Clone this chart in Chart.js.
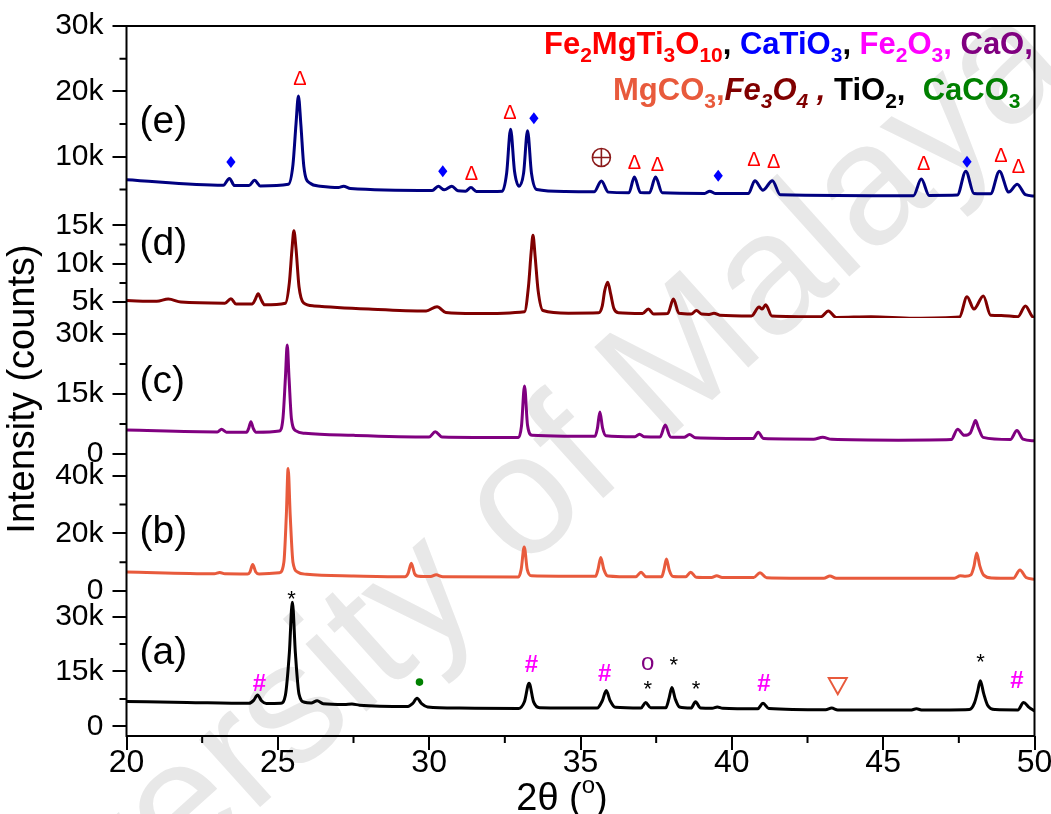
<!DOCTYPE html>
<html>
<head>
<meta charset="utf-8">
<title>XRD patterns (a)-(e)</title>
<script src="https://cdn.jsdelivr.net/npm/chart.js@4.4.1/dist/chart.umd.min.js"></script>
<style>
  html, body { margin: 0; padding: 0; background: #fff; }
  #wrap { width: 1051px; height: 814px; position: relative; }
</style>
</head>
<body>
<div id="wrap"><canvas id="xrdChart"></canvas></div>
<script>
// 2-theta / counts pairs for each sample, bottom (a) to top (e)
const patternA = [
  [20.0, 6800], [22.0, 6550], [24.05, 6300], [24.2, 7100], [24.33, 8600], [24.46, 7000], [24.62, 6250],
  [25.1, 6350], [25.25, 8500], [25.38, 20000], [25.48, 34000], [25.58, 20000], [25.7, 8800], [25.88, 6600],
  [26.1, 6400], [26.3, 7000], [26.5, 6200], [27.2, 6000], [27.45, 6100], [27.7, 5800], [29.3, 5450],
  [29.45, 6200], [29.6, 7700], [29.75, 6200], [29.95, 5300], [31.0, 5000], [32.95, 4900], [33.15, 6800],
  [33.3, 11800], [33.45, 6700], [33.65, 5100], [35.55, 5000], [35.72, 7000], [35.85, 9800], [35.98, 7000],
  [36.15, 5200], [37.0, 5000], [37.15, 6500], [37.32, 5100], [37.82, 5100], [37.92, 7500], [38.02, 10600],
  [38.13, 7500], [38.27, 5300], [38.65, 5000], [38.8, 6700], [38.97, 5000], [39.35, 4950], [39.52, 5300],
  [39.7, 4950], [40.85, 4800], [41.03, 6300], [41.22, 4900], [43.1, 4550], [43.3, 5000], [43.5, 4500],
  [45.9, 4450], [46.1, 4800], [46.3, 4450], [47.85, 4600], [48.02, 6500], [48.12, 9500], [48.21, 12500],
  [48.32, 9000], [48.45, 5800], [48.7, 4600], [49.45, 4500], [49.64, 6500], [49.82, 5200], [50.0, 4200]
];
const patternB = [
  [20.0, 6600], [22.9, 6000], [23.08, 6450], [23.25, 5950], [24.0, 5900], [24.08, 6600], [24.17, 9200],
  [24.27, 6600], [24.38, 5900], [25.05, 6300], [25.2, 10000], [25.28, 26000], [25.34, 42500], [25.41, 26000],
  [25.5, 10000], [25.65, 6600], [25.95, 5800], [27.5, 5200], [29.2, 4900], [29.3, 6000], [29.41, 9600],
  [29.52, 6000], [29.65, 5100], [30.05, 5000], [30.23, 5600], [30.45, 4950], [32.95, 4850], [33.04, 7500],
  [33.14, 15300], [33.24, 7500], [33.38, 5300], [35.5, 5100], [35.58, 7500], [35.67, 11600], [35.77, 7500],
  [35.9, 5200], [36.82, 4900], [37.0, 6500], [37.17, 4900], [37.68, 4900], [37.76, 7500], [37.84, 11100],
  [37.93, 7300], [38.06, 5000], [38.47, 4900], [38.64, 6500], [38.82, 4800], [39.33, 4700], [39.5, 5300],
  [39.68, 4700], [40.72, 4650], [40.93, 6350], [41.15, 4600], [43.04, 4400], [43.24, 5200], [43.45, 4400],
  [47.35, 4450], [47.55, 5300], [47.72, 5100], [47.9, 5600], [48.0, 8500], [48.09, 13200], [48.19, 8800],
  [48.32, 5500], [48.6, 4500], [49.3, 4400], [49.52, 7300], [49.72, 4700], [50.0, 4100]
];
const patternC = [
  [20.0, 6000], [23.0, 5550], [23.14, 6200], [23.3, 5500], [23.97, 5500], [24.04, 6500], [24.11, 8100],
  [24.19, 6400], [24.28, 5500], [25.05, 5800], [25.17, 9000], [25.25, 19000], [25.31, 27200], [25.37, 19000],
  [25.45, 8800], [25.6, 5800], [25.9, 5200], [27.5, 4700], [30.0, 4300], [30.2, 5600], [30.42, 4300],
  [32.95, 4150], [33.05, 7000], [33.15, 17000], [33.25, 7200], [33.4, 4700], [34.5, 4500], [35.48, 4450],
  [35.56, 6500], [35.64, 10500], [35.73, 6500], [35.84, 4600], [36.8, 4350], [36.95, 5000], [37.1, 4350],
  [37.63, 4300], [37.8, 7300], [37.97, 4300], [38.42, 4200], [38.6, 4900], [38.8, 4100], [40.7, 3900],
  [40.87, 5450], [41.05, 3900], [42.7, 3750], [43.0, 4200], [43.3, 3700], [45.5, 3500], [47.25, 3650],
  [47.46, 6200], [47.68, 4700], [47.88, 5300], [47.97, 7000], [48.05, 8400], [48.15, 6500], [48.3, 4200],
  [49.2, 3650], [49.42, 5900], [49.62, 3750], [50.0, 3350]
];
const patternD = [
  [20.0, 5200], [21.0, 5100], [21.38, 5400], [21.8, 5000], [23.25, 4850], [23.45, 5450], [23.62, 4750],
  [24.15, 4750], [24.25, 5300], [24.35, 6100], [24.45, 5300], [24.56, 4650], [25.25, 4850], [25.38, 7500],
  [25.47, 12000], [25.53, 14300], [25.6, 12000], [25.7, 7000], [25.85, 4900], [26.2, 4500], [28.0, 4100],
  [29.9, 3850], [30.26, 4400], [30.55, 3650], [31.5, 3500], [33.15, 3750], [33.28, 7000], [33.37, 11500],
  [33.43, 13700], [33.5, 11000], [33.6, 6500], [33.76, 3900], [34.6, 3550], [35.6, 3600], [35.72, 4500],
  [35.8, 6500], [35.9, 7600], [36.0, 6000], [36.1, 4200], [36.25, 3600], [37.05, 3500], [37.24, 4100],
  [37.42, 3450], [37.88, 3500], [38.07, 5400], [38.25, 3550], [38.66, 3450], [38.83, 3900], [39.0, 3450],
  [39.25, 3400], [39.41, 3550], [39.6, 3300], [40.65, 3200], [40.9, 4350], [41.0, 4100], [41.12, 4650],
  [41.32, 3200], [42.95, 3100], [43.19, 3850], [43.45, 3000], [44.6, 3100], [46.0, 2900], [47.52, 3050],
  [47.77, 5700], [48.0, 4100], [48.31, 5800], [48.55, 3300], [48.9, 3250], [49.45, 3100], [49.7, 4500],
  [49.92, 3150], [50.0, 2900]
];
const patternE = [
  [20.0, 6500], [23.2, 5650], [23.4, 6700], [23.57, 5600], [24.05, 5600], [24.23, 6400], [24.42, 5550],
  [25.35, 5800], [25.5, 8800], [25.6, 15000], [25.68, 19300], [25.76, 15000], [25.86, 8500], [26.05, 6000],
  [26.4, 5500], [27.0, 5300], [27.17, 5500], [27.4, 5150], [30.1, 4850], [30.3, 5500], [30.5, 4950],
  [30.75, 5500], [30.95, 4800], [31.2, 4750], [31.38, 5300], [31.56, 4700], [32.42, 4750], [32.56, 7500],
  [32.69, 14200], [32.82, 7800], [32.97, 5500], [33.12, 7500], [33.25, 14000], [33.38, 7500], [33.55, 5000],
  [34.5, 4700], [35.45, 4650], [35.69, 6300], [35.92, 4600], [36.6, 4500], [36.78, 6900], [36.98, 4550],
  [37.28, 4500], [37.48, 6900], [37.7, 4500], [39.1, 4400], [39.27, 4750], [39.45, 4400], [40.55, 4400],
  [40.76, 6350], [41.03, 4900], [41.34, 6350], [41.6, 4200], [46.0, 4050], [46.26, 6600], [46.52, 4100],
  [47.45, 4150], [47.73, 7800], [48.0, 4400], [48.55, 4350], [48.84, 7800], [49.15, 4600], [49.43, 5800],
  [49.7, 4200], [50.0, 4000]
];

// phase markers: [2-theta, counts on that panel's axis, symbol]
const marksE = [
  [23.45, 9200, 'diamond'], [25.73, 22100, 'delta'], [30.45, 7800, 'diamond'], [31.4, 7500, 'delta'],
  [32.67, 16800, 'delta'], [33.46, 15900, 'diamond'], [35.69, 9900, 'oplus'], [36.78, 9200, 'delta'],
  [37.54, 8850, 'delta'], [39.55, 7100, 'diamond'], [40.73, 9700, 'delta'], [41.38, 9350, 'delta'],
  [46.34, 9100, 'delta'], [47.77, 9250, 'diamond'], [48.89, 10200, 'delta'], [49.47, 8600, 'delta']
];
const marksA = [
  [24.39, 11900, 'hash'], [25.45, 35800, 'star'], [29.68, 12100, 'dot'], [33.38, 17300, 'hash'],
  [35.8, 14700, 'hash'], [37.22, 17200, 'ring'], [37.22, 11400, 'star'], [38.08, 17900, 'star'],
  [38.82, 11400, 'star'], [41.06, 11900, 'hash'], [43.5, 11000, 'nabla'], [48.22, 18800, 'star'],
  [49.42, 12800, 'hash']
];

// tick values
const xTicks = [20, 25, 30, 35, 40, 45, 50];
const xMinor = [22.5, 27.5, 32.5, 37.5, 42.5, 47.5];
const ticksE = [10000, 20000, 30000], minorE = [5000, 15000, 25000];
const ticksD = [5000, 10000, 15000], minorD = [7500, 12500];
const ticksC = [0, 15000, 30000], minorC = [7500, 22500];
const ticksB = [0, 20000, 40000], minorB = [10000, 30000];
const ticksA = [0, 15000, 30000], minorA = [7500, 22500];

const panelNames = ['(a)', '(b)', '(c)', '(d)', '(e)'];

// phase legend, two lines of [text, colour, subscript, italic]
const RED = '#ff0000', BLUE = '#0000ff', MAG = '#ff00ff', PUR = '#800080',
      SAL = '#e85a3c', DRED = '#800000', GRN = '#008000', BLK = '#000000';
const phaseLine1 = [
  ['Fe', RED], ['2', RED, 1], ['MgTi', RED], ['3', RED, 1], ['O', RED], ['10', RED, 1], [', ', BLK],
  ['CaTiO', BLUE], ['3', BLUE, 1], [', ', BLK],
  ['Fe', MAG], ['2', MAG, 1], ['O', MAG], ['3', MAG, 1], [', ', MAG],
  ['CaO,', PUR]
];
const phaseLine2 = [
  ['MgCO', SAL], ['3', SAL, 1], [',', SAL],
  ['Fe', DRED, 0, 1], ['3', DRED, 1, 1], ['O', DRED, 0, 1], ['4', DRED, 1, 1], [' , ', DRED, 0, 1],
  ['TiO', BLK], ['2', BLK, 1], [',  ', BLK],
  ['CaCO', GRN], ['3', GRN, 1]
];

const FONT = '"Liberation Sans", Arial, sans-serif';
const kLabel = v => (v === 0 ? '0' : (v / 1000) + 'k');

function toPoints(pairs) {
  return pairs.map(p => ({ x: p[0], y: p[1] }));
}

function yAxis(ticks, min, max, weight, order) {
  return {
    type: 'linear',
    position: 'left',
    stack: 'xrd',
    stackWeight: weight,
    weight: order,
    min: min,
    max: max,
    border: { display: false },
    grid: { drawOnChartArea: false, drawTicks: true, tickLength: 14, color: '#000', lineWidth: 2 },
    ticks: {
      color: '#000', padding: 9, autoSkip: false,
      font: { family: FONT, size: 30 },
      callback: kLabel
    },
    afterBuildTicks: s => { s.ticks = ticks.map(v => ({ value: v })); },
    afterFit: s => { s.width = 126.5; s.paddingTop = 0; s.paddingBottom = 0; }
  };
}

function centerGlyph(ctx, t, x, y, font, color) {
  ctx.font = font;
  ctx.fillStyle = color;
  ctx.textAlign = 'center';
  ctx.textBaseline = 'alphabetic';
  const m = ctx.measureText(t);
  ctx.fillText(t, x, y + (m.actualBoundingBoxAscent - m.actualBoundingBoxDescent) / 2);
}

function drawMark(ctx, kind, x, y) {
  ctx.save();
  if (kind === 'delta') {
    centerGlyph(ctx, '\u0394', x, y, '20px ' + FONT, RED);
  } else if (kind === 'diamond') {
    ctx.fillStyle = BLUE;
    ctx.beginPath();
    ctx.moveTo(x, y - 6); ctx.lineTo(x + 4.6, y); ctx.lineTo(x, y + 6); ctx.lineTo(x - 4.6, y);
    ctx.closePath(); ctx.fill();
  } else if (kind === 'oplus') {
    ctx.strokeStyle = '#8b1a1a'; ctx.lineWidth = 1.6;
    ctx.beginPath(); ctx.arc(x, y, 9, 0, Math.PI * 2); ctx.stroke();
    ctx.beginPath();
    ctx.moveTo(x - 9, y); ctx.lineTo(x + 9, y);
    ctx.moveTo(x, y - 9); ctx.lineTo(x, y + 9);
    ctx.stroke();
  } else if (kind === 'hash') {
    centerGlyph(ctx, '#', x, y, 'bold 24px ' + FONT, MAG);
  } else if (kind === 'star') {
    centerGlyph(ctx, '*', x, y, '22px ' + FONT, BLK);
  } else if (kind === 'ring') {
    centerGlyph(ctx, 'o', x, y, '24px ' + FONT, PUR);
  } else if (kind === 'dot') {
    ctx.fillStyle = GRN;
    ctx.beginPath(); ctx.arc(x, y, 3.8, 0, Math.PI * 2); ctx.fill();
  } else if (kind === 'nabla') {
    ctx.strokeStyle = SAL; ctx.lineWidth = 2;
    ctx.beginPath();
    ctx.moveTo(x - 9, y - 8); ctx.lineTo(x + 9, y - 8); ctx.lineTo(x, y + 8);
    ctx.closePath(); ctx.stroke();
  }
  ctx.restore();
}

function drawRuns(ctx, runs, x, baseline) {
  ctx.textAlign = 'left';
  ctx.textBaseline = 'alphabetic';
  for (const [t, color, sub, italic] of runs) {
    const size = sub ? 21 : 31;
    ctx.font = (italic ? 'italic ' : '') + 'bold ' + size + 'px ' + FONT;
    ctx.fillStyle = color;
    ctx.fillText(t, x, baseline + (sub ? 8 : 0));
    x += ctx.measureText(t).width;
  }
}

const decor = {
  id: 'decor',
  beforeDraw(chart) {
    const ctx = chart.ctx;
    ctx.save();
    ctx.fillStyle = '#fff';
    ctx.fillRect(0, 0, chart.width, chart.height);
    // repository watermark
    ctx.translate(468, 556);
    ctx.rotate(-42 * Math.PI / 180);
    ctx.font = '172px ' + FONT;
    ctx.fillStyle = '#e8e8e8';
    ctx.textAlign = 'center';
    ctx.textBaseline = 'middle';
    ctx.fillText('University of Malaya', 0, 0);
    ctx.restore();
  },
  afterDraw(chart) {
    const ctx = chart.ctx;
    const area = chart.chartArea;
    const xs = chart.scales.x;
    ctx.save();

    // frame
    ctx.strokeStyle = '#000';
    ctx.lineWidth = 2;
    ctx.strokeRect(area.left, area.top, area.right - area.left, area.bottom - area.top);

    // minor ticks
    ctx.beginPath();
    xMinor.forEach(v => {
      const px = xs.getPixelForValue(v);
      ctx.moveTo(px, area.bottom); ctx.lineTo(px, area.bottom + 7);
    });
    [['ye', minorE], ['yd', minorD], ['yc', minorC], ['yb', minorB], ['ya', minorA]].forEach(([id, vals]) => {
      const s = chart.scales[id];
      vals.forEach(v => {
        const py = s.getPixelForValue(v);
        ctx.moveTo(area.left - 7, py); ctx.lineTo(area.left, py);
      });
    });
    ctx.stroke();

    // panel letters
    ctx.fillStyle = '#000';
    ctx.font = '39px ' + FONT;
    ctx.textAlign = 'left';
    ctx.textBaseline = 'middle';
    [['ya', 19900], ['yb', 20300], ['yc', 18000], ['yd', 12500], ['ye', 15300]].forEach(([id, v], i) => {
      ctx.fillText(panelNames[i], xs.getPixelForValue(20.43), chart.scales[id].getPixelForValue(v));
    });

    // phase markers
    marksE.forEach(([x, y, k]) => drawMark(ctx, k, xs.getPixelForValue(x), chart.scales.ye.getPixelForValue(y)));
    marksA.forEach(([x, y, k]) => drawMark(ctx, k, xs.getPixelForValue(x), chart.scales.ya.getPixelForValue(y)));

    // phase legend
    drawRuns(ctx, phaseLine1, 544, 54);
    drawRuns(ctx, phaseLine2, 613, 100);

    // y title
    ctx.save();
    ctx.translate(24, 389);
    ctx.rotate(-Math.PI / 2);
    ctx.font = '38px ' + FONT;
    ctx.fillStyle = '#000';
    ctx.textAlign = 'center';
    ctx.textBaseline = 'middle';
    ctx.fillText('Intensity (counts)', 0, 0);
    ctx.restore();

    // x title: 2θ (°) with a raised o
    ctx.fillStyle = '#000';
    ctx.font = '38px ' + FONT;
    ctx.textBaseline = 'alphabetic';
    ctx.textAlign = 'left';
    const head = '2\u03b8 (';
    const wHead = ctx.measureText(head).width;
    ctx.font = '24px ' + FONT;
    const wO = ctx.measureText('o').width;
    ctx.font = '38px ' + FONT;
    const wTail = ctx.measureText(')').width;
    let tx = 562 - (wHead + wO + wTail) / 2;
    const base = 810;
    ctx.fillText(head, tx, base);
    tx += wHead;
    ctx.font = '24px ' + FONT;
    ctx.fillText('o', tx, base - 17);
    tx += wO;
    ctx.font = '38px ' + FONT;
    ctx.fillText(')', tx, base);

    ctx.restore();
  }
};

const line = (pairs, color, axis) => ({
  data: toPoints(pairs),
  yAxisID: axis,
  borderColor: color,
  borderWidth: 3,
  pointRadius: 0,
  cubicInterpolationMode: 'monotone',
  fill: false
});

new Chart(document.getElementById('xrdChart'), {
  type: 'line',
  data: {
    datasets: [
      line(patternA, '#000000', 'ya'),
      line(patternB, SAL, 'yb'),
      line(patternC, PUR, 'yc'),
      line(patternD, DRED, 'yd'),
      line(patternE, '#000080', 'ye')
    ]
  },
  options: {
    responsive: true,
    maintainAspectRatio: false,
    devicePixelRatio: 1,
    animation: false,
    events: [],
    layout: { padding: { top: 26, right: 16.5, left: 0, bottom: 0 } },
    plugins: { legend: { display: false }, tooltip: { enabled: false } },
    scales: {
      x: {
        type: 'linear',
        position: 'bottom',
        min: 20,
        max: 50,
        border: { display: false },
        grid: { drawOnChartArea: false, drawTicks: true, tickLength: 14, color: '#000', lineWidth: 2 },
        ticks: { color: '#000', padding: -6, maxRotation: 0, autoSkip: false, font: { family: FONT, size: 32 } },
        afterBuildTicks: s => { s.ticks = xTicks.map(v => ({ value: v })); },
        afterFit: s => { s.height = 78; s.paddingLeft = 0; s.paddingRight = 0; }
      },
      ye: yAxis(ticksE, 2620, 30000, 179.2, 5),
      yd: yAxis(ticksD, 2930, 17640, 113, 4),
      yc: yAxis(ticksC, -2660, 33930, 147, 3),
      yb: yAxis(ticksB, -3400, 43740, 136, 2),
      ya: yAxis(ticksA, -2620, 34300, 135.3, 1)
    }
  },
  plugins: [decor]
});
</script>
</body>
</html>
